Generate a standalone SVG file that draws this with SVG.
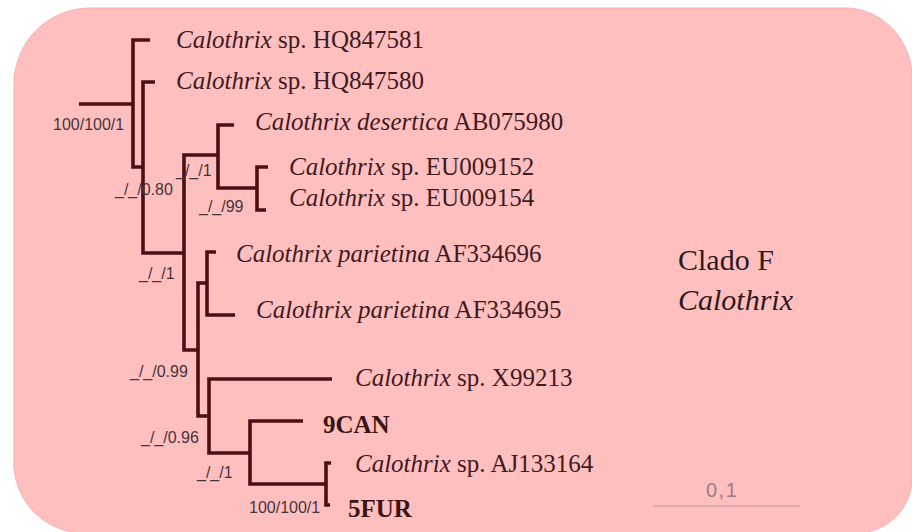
<svg xmlns="http://www.w3.org/2000/svg" width="912" height="532" viewBox="0 0 912 532">
  <style>
    .panel { fill: #ffbfbf; stroke: #f4b2b2; stroke-width: 1; }
    .edge { fill: none; stroke: #4b1014; stroke-width: 3.6; stroke-linejoin: miter; stroke-linecap: butt; }
    .taxon { font-family: "Liberation Serif", "Times New Roman", serif; font-size: 25px; fill: #3f1a1f; }
    .taxon .gen { font-style: italic; }
    .iso { font-family: "Liberation Serif", "Times New Roman", serif; font-size: 25px; font-weight: bold; fill: #3a1417; }
    .support { font-family: "Liberation Sans", Arial, sans-serif; font-size: 16px; fill: #45353a; }
    .clade { font-family: "Liberation Serif", "Times New Roman", serif; font-size: 30px; fill: #2e1a1d; }
    .scale-label { font-family: "Liberation Sans", Arial, sans-serif; font-size: 20px; letter-spacing: 1.5px; fill: #9a7d85; }
    .scale-bar { stroke: #d9a6aa; stroke-width: 1.5; }
  </style>

  <!-- background panel with rounded corners -->
  <path class="panel" d="M14,85 A76,76 0 0 1 90,8 H845 A67,70 0 0 1 912,78 V480 A55,55 0 0 1 860,533 H84 A70,70 0 0 1 14,460 Z"/>

  <!-- tree branches -->
  <g id="connectors">
    <path class="edge" d="M79,104 H133"/>
    <path class="edge" d="M150,40 H133 V167 H143"/>
    <path class="edge" d="M155,82 H143 V253 H184"/>
    <path class="edge" d="M218,155 H184 V350 H198"/>
    <path class="edge" d="M234,125 H218 V188 H257"/>
    <path class="edge" d="M268,167 H257 V210 H266"/>
    <path class="edge" d="M207,283 H198 V416 H209"/>
    <path class="edge" d="M216,252 H207 V315 H235"/>
    <path class="edge" d="M332,379 H209 V453 H250"/>
    <path class="edge" d="M303,421 H250 V484 H326"/>
    <path class="edge" d="M331,463 H326 V505 H330"/>
  </g>

  <!-- terminal taxa -->
  <g id="HQ847581"><text class="taxon" x="176" y="48"><tspan class="gen">Calothrix</tspan> sp. HQ847581</text></g>
  <g id="HQ847580"><text class="taxon" x="176" y="89"><tspan class="gen">Calothrix</tspan> sp. HQ847580</text></g>
  <g id="AB075980"><text class="taxon" x="255" y="130"><tspan class="gen">Calothrix desertica</tspan> AB075980</text></g>
  <g id="EU009152"><text class="taxon" x="289" y="175"><tspan class="gen">Calothrix</tspan> sp. EU009152</text></g>
  <g id="EU009154"><text class="taxon" x="289" y="206"><tspan class="gen">Calothrix</tspan> sp. EU009154</text></g>
  <g id="AF334696"><text class="taxon" x="236" y="262"><tspan class="gen">Calothrix parietina</tspan> AF334696</text></g>
  <g id="AF334695"><text class="taxon" x="256" y="318"><tspan class="gen">Calothrix parietina</tspan> AF334695</text></g>
  <g id="X99213"><text class="taxon" x="355" y="386"><tspan class="gen">Calothrix</tspan> sp. X99213</text></g>
  <g id="9CAN"><text class="iso" x="323" y="433">9CAN</text></g>
  <g id="AJ133164"><text class="taxon" x="355" y="472"><tspan class="gen">Calothrix</tspan> sp. AJ133164</text></g>
  <g id="5FUR"><text class="iso" x="348" y="517">5FUR</text></g>

  <!-- support values at internal nodes -->
  <g id="node-root"><text class="support" x="53" y="130">100/100/1</text></g>
  <g id="node-n1"><text class="support" x="115" y="195">_/_/0.80</text></g>
  <g id="node-de"><text class="support" x="176" y="176">_/_/1</text></g>
  <g id="node-eu"><text class="support" x="199" y="212">_/_/99</text></g>
  <g id="node-a"><text class="support" x="139" y="279">_/_/1</text></g>
  <g id="node-b"><text class="support" x="130" y="377">_/_/0.99</text></g>
  <g id="node-c"><text class="support" x="141" y="443">_/_/0.96</text></g>
  <g id="node-d"><text class="support" x="197" y="478">_/_/1</text></g>
  <g id="node-e"><text class="support" x="249" y="513">100/100/1</text></g>

  <!-- clade name -->
  <g id="clade-label">
    <text class="clade" x="678" y="270">Clado F</text>
    <text class="clade" x="678" y="310" font-style="italic">Calothrix</text>
  </g>

  <!-- scale bar -->
  <g id="scale">
    <text class="scale-label" x="706" y="497">0,1</text>
    <line class="scale-bar" x1="653" y1="506" x2="800" y2="506"/>
  </g>
</svg>
